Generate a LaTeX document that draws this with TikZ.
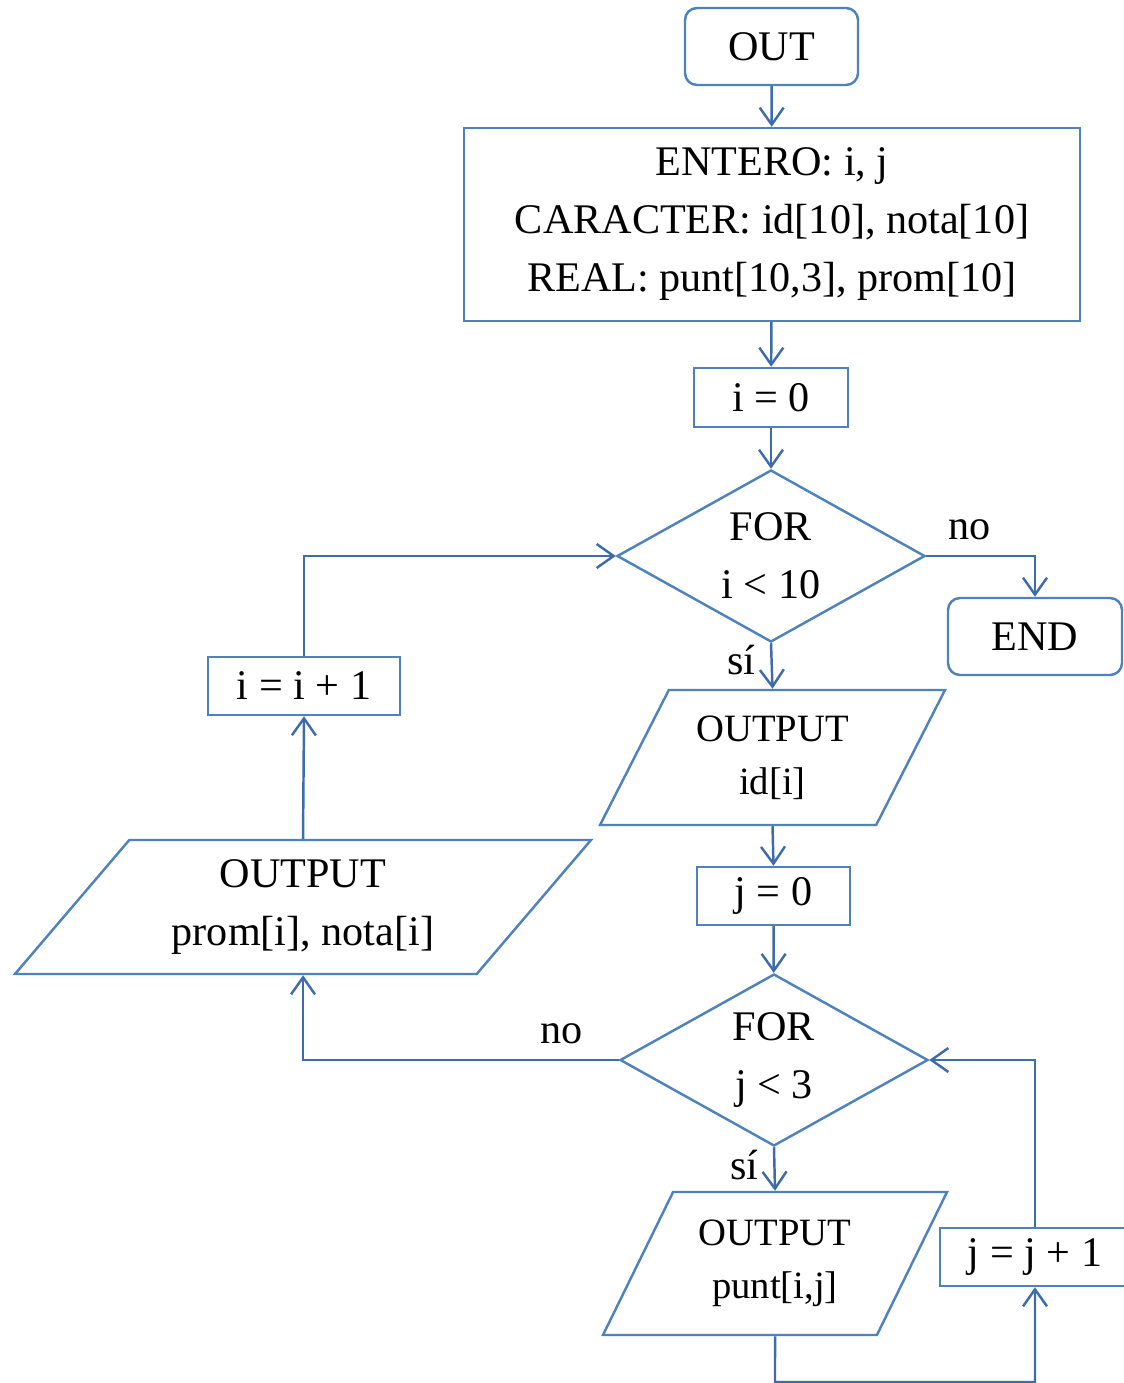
\documentclass[tikz,border=0pt]{standalone}
\usepackage{fontspec}
\setmainfont{Liberation Serif}
\usepackage{xcolor}
\usepackage{tikz}
\usetikzlibrary{arrows.meta,calc,positioning,shapes.geometric}
\definecolor{boxblue}{RGB}{79,129,189}
\definecolor{lineblue}{RGB}{62,108,170}

\begin{document}
\begin{tikzpicture}[font=\fontsize{12}{16.5}\selectfont,
  every node/.style={inner sep=0pt},
  term/.style={draw=boxblue,line width=0.7pt,rounded corners=0.12cm,minimum width=1.73cm,minimum height=0.77cm},
  proc/.style={draw=boxblue,line width=0.7pt,minimum height=0.58cm,align=center},
  cond/.style={draw=boxblue,line width=0.7pt,diamond,shape aspect=1.79,minimum width=3.08cm,minimum height=1.72cm,align=center},
  iobox/.style={draw=boxblue,line width=0.7pt,trapezium,trapezium stretches body,align=center},
  small/.style={font=\fontsize{11}{15}\selectfont},
  flow/.style={draw=lineblue,line width=0.7pt,-{Straight Barb[length=0.17cm,width=0.24cm]}}]
  \useasboundingbox (0,0) rectangle (11.24,-13.83);
  \clip (0,0) rectangle (11.24,-13.83);
  % outer loop
  \node[term] (out) at (7.715,-0.465) {OUT};
  \node[proc,minimum width=6.16cm,minimum height=1.93cm] (decl) at (7.72,-2.245)
    {ENTERO: i, j\\CARACTER: id[10], nota[10]\\REAL: punt[10,3], prom[10]};
  \node[proc,minimum width=1.54cm,minimum height=0.59cm] (i0) at (7.71,-3.975) {i = 0};
  \node[cond] (fori) at (7.71,-5.56) {FOR\\i < 10};
  \node[term,minimum width=1.74cm] (fin) at (10.35,-6.365) {END};
  \node[iobox,small,minimum height=1.35cm,minimum width=3.45cm,
    trapezium left angle=50.5,trapezium right angle=129.5] (outid) at (7.725,-7.575) {OUTPUT\\id[i]};
  \node[proc,minimum width=1.53cm] (j0) at (7.735,-8.96) {j = 0};
  % inner loop
  \node[cond] (forj) at (7.74,-10.6) {FOR\\j < 3};
  \node[iobox,small,minimum height=1.43cm,minimum width=3.44cm,
    trapezium left angle=51,trapezium right angle=129] (outpunt) at (7.75,-12.635) {OUTPUT\\punt[i,j]};
  \node[proc,minimum width=1.9cm] (jinc) at (10.35,-12.57) {j = j + 1};
  \node[iobox,minimum height=1.34cm,minimum width=5.76cm,
    trapezium left angle=39.7,trapezium right angle=140.3] (outprom) at (3.03,-9.07) {OUTPUT\\prom[i], nota[i]};
  \node[proc,minimum width=1.92cm] (iinc) at (3.04,-6.86) {i = i + 1};
  \coordinate (jloop) at (7.75,-13.82);

  \draw[flow] (out) -- (decl);
  \draw[flow] (decl) -- (i0);
  \draw[flow] (i0) -- (fori);
  \draw[flow] (fori.east) -| (fin.north) node[pos=0.2,above=0.15cm] {no};
  \draw[flow] (fori.south) -- (outid.north) node[pos=0.37,left=0.15cm] {sí};
  \draw[flow] (outid.south) -- (j0.north);
  \draw[flow] (j0) -- (forj);
  \draw[flow] (forj.south) -- (outpunt.north) node[pos=0.4,left=0.15cm] {sí};
  \draw[flow] (outpunt.south) -- (jloop) -| (jinc.south);
  \draw[flow] (jinc.north) |- (forj.east);
  \draw[flow] (forj.west) -| (outprom.south) node[pos=0.09,above=0.15cm] {no};
  \draw[flow] (outprom.north) -- (iinc.south);
  \draw[flow] (iinc.north) |- (fori.west);
\end{tikzpicture}
\end{document}
